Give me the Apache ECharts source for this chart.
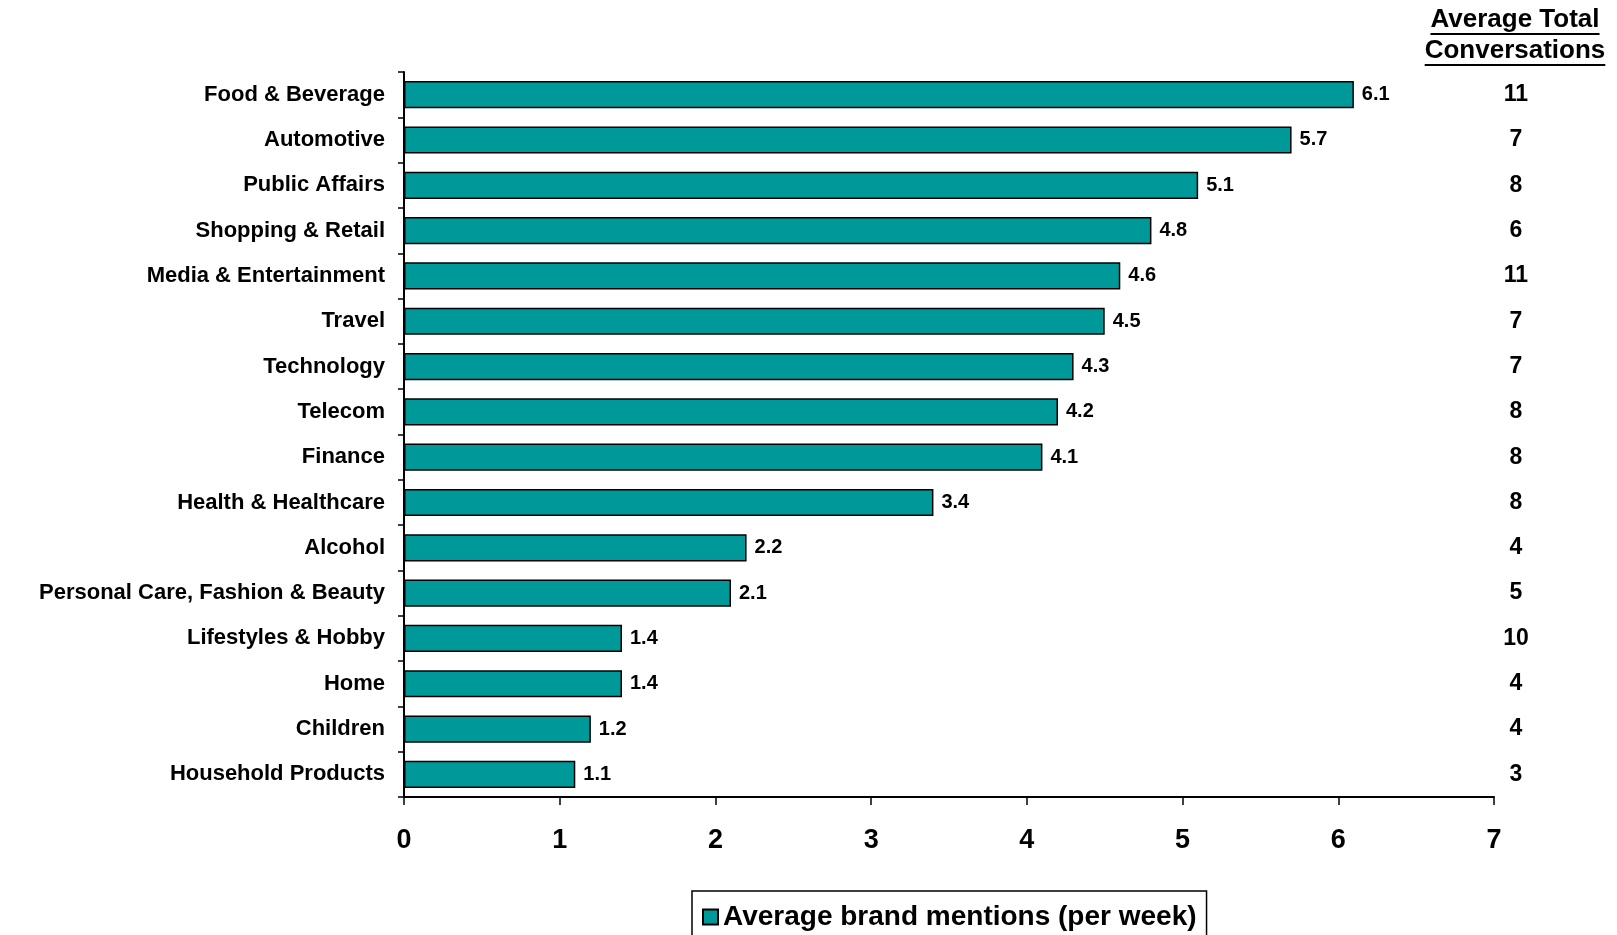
<!DOCTYPE html>
<html>
<head>
<meta charset="utf-8">
<script src="https://cdn.jsdelivr.net/npm/echarts@6/dist/echarts.min.js"></script>
<style>
  html, body { margin: 0; padding: 0; background: #ffffff; }
  #chart { width: 1617px; height: 935px; }
</style>
</head>
<body>
<div id="chart"></div>
<script>
// Brand mentions per category, with the average total conversations listed at the right
const categories = [
  'Food & Beverage', 'Automotive', 'Public Affairs', 'Shopping & Retail',
  'Media & Entertainment', 'Travel', 'Technology', 'Telecom', 'Finance',
  'Health & Healthcare', 'Alcohol', 'Personal Care, Fashion & Beauty',
  'Lifestyles & Hobby', 'Home', 'Children', 'Household Products'
];
const brandMentions = [6.1, 5.7, 5.1, 4.8, 4.6, 4.5, 4.3, 4.2, 4.1, 3.4, 2.2, 2.1, 1.4, 1.4, 1.2, 1.1];
const totalConversations = [11, 7, 8, 6, 11, 7, 7, 8, 8, 8, 4, 5, 10, 4, 4, 3];
const seriesName = 'Average brand mentions (per week)';
const headerLines = ['Average Total', 'Conversations'];
const axisMin = 0, axisMax = 7, axisStep = 1;

const FONT = '"Liberation Sans", Arial, Helvetica, sans-serif';
const chart = echarts.init(document.getElementById('chart'));

// measure header lines so the underline spans each line exactly
const headerFontSize = 26;
const ctx = document.createElement('canvas').getContext('2d');
ctx.font = 'bold ' + headerFontSize + 'px ' + FONT;
const headerX = 1515;
const headerRows = [{ y: 20, ul: 34 }, { y: 51, ul: 65 }];
const headerGraphics = [];
headerLines.forEach((line, i) => {
  const w = ctx.measureText(line).width;
  headerGraphics.push({
    type: 'text', x: headerX, y: headerRows[i].y,
    style: {
      text: line, fill: '#000', align: 'center', verticalAlign: 'middle',
      font: 'bold ' + headerFontSize + 'px ' + FONT
    }
  });
  headerGraphics.push({
    type: 'line',
    shape: { x1: headerX - w / 2, y1: headerRows[i].ul, x2: headerX + w / 2, y2: headerRows[i].ul },
    style: { stroke: '#000', lineWidth: 2 }
  });
});

const option = {
  backgroundColor: '#ffffff',
  animation: false,
  textStyle: { fontFamily: FONT },
  grid: { left: 404, right: 123, top: 72, bottom: 138 },
  legend: {
    data: [seriesName],
    left: 692, top: 891,
    icon: 'rect', itemWidth: 15, itemHeight: 15, itemGap: 10,
    borderColor: '#000', borderWidth: 1.5,
    padding: [12, 10, 30, 10],
    textStyle: { fontSize: 28, fontWeight: 'bold', color: '#000', fontFamily: FONT }
  },
  xAxis: {
    type: 'value', min: axisMin, max: axisMax, interval: axisStep,
    axisLine: { show: true, lineStyle: { color: '#000', width: 2 } },
    axisTick: { show: true, length: 8, lineStyle: { color: '#000', width: 1.5 } },
    splitLine: { show: false },
    axisLabel: { margin: 30, fontSize: 27, fontWeight: 'bold', color: '#000', fontFamily: FONT }
  },
  yAxis: [
    {
      type: 'category', data: categories, inverse: true,
      axisLine: { show: true, lineStyle: { color: '#000', width: 2 } },
      axisTick: { show: true, length: 6, lineStyle: { color: '#000', width: 1.5 } },
      axisLabel: { margin: 19, fontSize: 22, fontWeight: 'bold', color: '#000', fontFamily: FONT }
    },
    {
      type: 'category', data: totalConversations, inverse: true, position: 'right',
      axisLine: { show: false }, axisTick: { show: false }, splitLine: { show: false },
      axisLabel: { margin: 22, align: 'center', fontSize: 23, fontWeight: 'bold', color: '#000', fontFamily: FONT }
    }
  ],
  graphic: headerGraphics,
  series: [{
    name: seriesName,
    type: 'bar',
    data: brandMentions,
    barWidth: '60%',
    itemStyle: { color: '#009999', borderColor: '#000', borderWidth: 1.5 },
    label: {
      show: true, position: 'right', distance: 8,
      fontSize: 20, fontWeight: 'bold', color: '#000', fontFamily: FONT
    }
  }]
};
chart.setOption(option);
</script>
</body>
</html>
